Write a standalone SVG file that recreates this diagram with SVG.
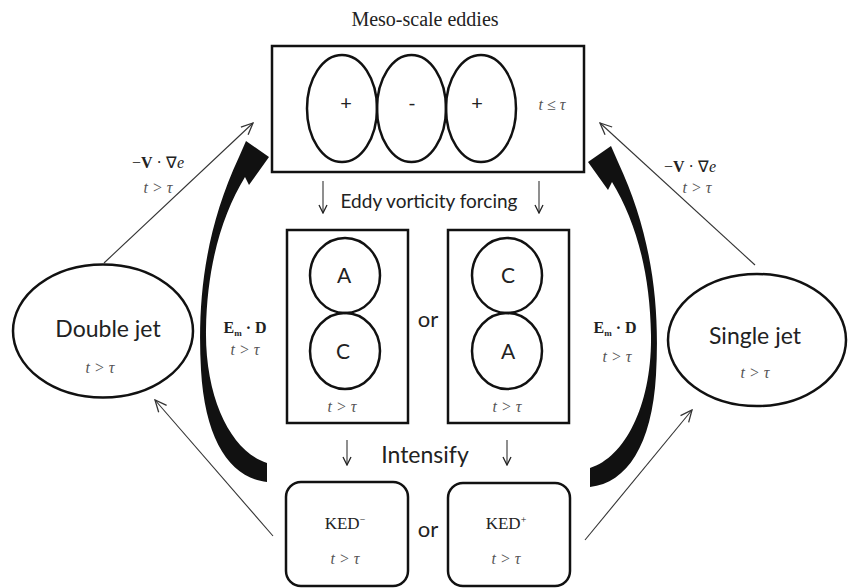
<svg xmlns="http://www.w3.org/2000/svg" width="848" height="588" viewBox="0 0 848 588">
  <style>
    .box { fill: #fff; stroke: #111; stroke-width: 2.5; }
    .eddy { fill: none; stroke: #111; stroke-width: 2.5; }
    .sans { font-family: Lato, "Liberation Sans", sans-serif; fill: #222; text-anchor: middle; }
    .serif { font-family: "Liberation Serif", serif; fill: #222; text-anchor: middle; }
    .cond { font-family: "Liberation Serif", serif; font-style: italic; fill: #555; font-size: 16px; text-anchor: middle; }
    .thin { fill: none; stroke: #333; stroke-width: 1.1; }
    .thick { fill: #111; stroke: none; }
  </style>
  <defs>
    <marker id="open" markerUnits="userSpaceOnUse" markerWidth="14" markerHeight="14" viewBox="0 0 12 12" refX="11" refY="6" orient="auto">
      <path d="M1,1.5 L11,6 L1,10.5" fill="none" stroke="#333" stroke-width="1.1"/>
    </marker>
    <marker id="down" markerUnits="userSpaceOnUse" markerWidth="12" markerHeight="12" viewBox="0 0 12 12" refX="11" refY="6" orient="auto">
      <path d="M3,2 L11,6 L3,10" fill="none" stroke="#222" stroke-width="1.3"/>
    </marker>
    <!-- curved feedback arrow, left-hand version -->
    <path id="curl" d="M267,482 C230,478 205,440 201,370 C197,300 205,230 239,157 L246,141 L269,157 L249,185 L245,177 C222,215 207,265 206,330 C205,400 232,452 267,463 Z"/>
  </defs>

  <text class="serif" x="425" y="26" font-size="20">Meso-scale eddies</text>

  <!-- connectors -->
  <g id="connectors">
    <use href="#curl" class="thick"/>
    <use href="#curl" class="thick" transform="translate(857,5) scale(-1,1)"/>
    <line class="thin" x1="104" y1="263" x2="253" y2="123" marker-end="url(#open)"/>
    <line class="thin" x1="755" y1="265" x2="600" y2="123" marker-end="url(#open)"/>
    <line class="thin" x1="273" y1="536" x2="155" y2="400" marker-end="url(#open)"/>
    <line class="thin" x1="585" y1="540" x2="692" y2="410" marker-end="url(#open)"/>
    <line class="thin" x1="323" y1="181" x2="323" y2="213" marker-end="url(#down)"/>
    <line class="thin" x1="539" y1="181" x2="539" y2="213" marker-end="url(#down)"/>
    <line class="thin" x1="347" y1="440" x2="347" y2="465" marker-end="url(#down)"/>
    <line class="thin" x1="507" y1="440" x2="507" y2="465" marker-end="url(#down)"/>

    <text class="serif" x="158" y="168" font-size="16"><tspan>−</tspan><tspan font-weight="bold">V</tspan><tspan> · ∇</tspan><tspan font-style="italic">e</tspan></text>
    <text class="cond" x="158" y="193">t &gt; τ</text>
    <text class="serif" x="690" y="172" font-size="16"><tspan>−</tspan><tspan font-weight="bold">V</tspan><tspan> · ∇</tspan><tspan font-style="italic">e</tspan></text>
    <text class="cond" x="697" y="193">t &gt; τ</text>

    <text class="serif" x="245" y="333" font-size="16" font-weight="bold">E<tspan font-size="9" dy="3">m</tspan><tspan dy="-3"> · D</tspan></text>
    <text class="cond" x="245" y="355">t &gt; τ</text>
    <text class="serif" x="615" y="333" font-size="16" font-weight="bold">E<tspan font-size="9" dy="3">m</tspan><tspan dy="-3"> · D</tspan></text>
    <text class="cond" x="617" y="362">t &gt; τ</text>

    <text class="sans" x="429" y="208" font-size="19">Eddy vorticity forcing</text>
    <text class="sans" x="425" y="463" font-size="23">Intensify</text>
  </g>

  <!-- meso-scale eddy row -->
  <g id="eddies">
    <rect class="box" x="272" y="46" width="312" height="126" stroke-width="3"/>
    <ellipse class="eddy" cx="342" cy="108.5" rx="35" ry="53.5"/>
    <ellipse class="eddy" cx="411.5" cy="108.5" rx="34.5" ry="53.5"/>
    <ellipse class="eddy" cx="481" cy="108.5" rx="35" ry="53.5"/>
    <text class="sans" x="346" y="110" font-size="20">+</text>
    <text class="sans" x="412" y="110" font-size="20">-</text>
    <text class="sans" x="477" y="110" font-size="20">+</text>
    <text class="cond" x="552" y="110">t ≤ τ</text>
  </g>

  <!-- anticyclone over cyclone -->
  <g id="pair-ac">
    <rect class="box" x="287" y="230" width="121" height="193"/>
    <ellipse class="eddy" cx="345" cy="275.5" rx="35" ry="37.5"/>
    <ellipse class="eddy" cx="345" cy="351" rx="35" ry="38"/>
    <text class="sans" x="344" y="283" font-size="21">A</text>
    <text class="sans" x="343" y="359" font-size="21">C</text>
    <text class="cond" x="342" y="412">t &gt; τ</text>
  </g>

  <text class="sans" x="428" y="327" font-size="22">or</text>

  <!-- cyclone over anticyclone -->
  <g id="pair-ca">
    <rect class="box" x="448" y="230" width="121" height="193"/>
    <ellipse class="eddy" cx="507" cy="275.5" rx="35" ry="37.5"/>
    <ellipse class="eddy" cx="507" cy="351" rx="35" ry="38"/>
    <text class="sans" x="508" y="283" font-size="21">C</text>
    <text class="sans" x="508" y="359" font-size="21">A</text>
    <text class="cond" x="507" y="412">t &gt; τ</text>
  </g>

  <g id="ked-minus">
    <rect class="box" x="286" y="482" width="122" height="104" rx="15"/>
    <text class="serif" x="345" y="529" font-size="17" fill="#333">KED<tspan font-size="10" dy="-6">−</tspan></text>
    <text class="cond" x="345" y="564">t &gt; τ</text>
  </g>

  <text class="sans" x="428" y="537" font-size="22">or</text>

  <g id="ked-plus">
    <rect class="box" x="448" y="483" width="122" height="103" rx="15"/>
    <text class="serif" x="506" y="529" font-size="17" fill="#333">KED<tspan font-size="10" dy="-6">+</tspan></text>
    <text class="cond" x="506" y="564">t &gt; τ</text>
  </g>

  <g id="double-jet">
    <ellipse class="box" cx="103" cy="331" rx="90" ry="66.5"/>
    <text class="sans" x="108" y="337" font-size="23">Double jet</text>
    <text class="cond" x="100" y="373">t &gt; τ</text>
  </g>

  <g id="single-jet">
    <ellipse class="box" cx="757" cy="340" rx="89" ry="66"/>
    <text class="sans" x="755" y="344" font-size="23">Single jet</text>
    <text class="cond" x="755" y="378">t &gt; τ</text>
  </g>
</svg>
